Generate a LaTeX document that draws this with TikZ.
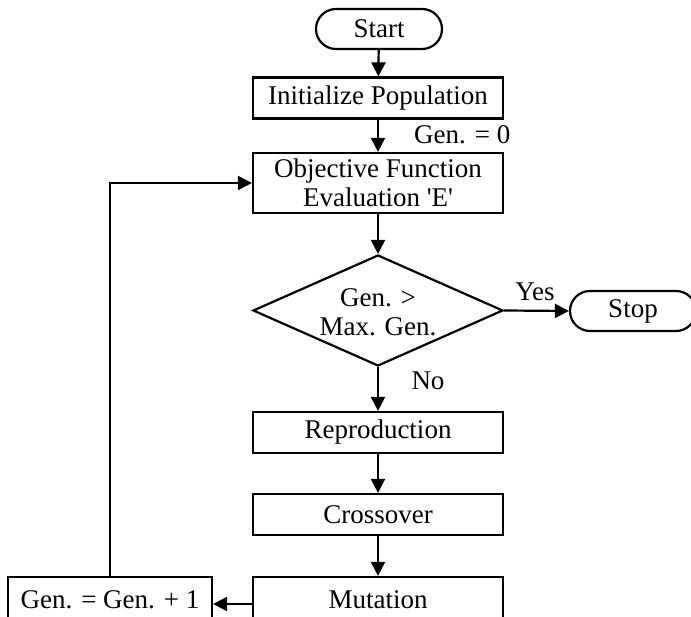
\documentclass[tikz,border=0pt]{standalone}
\usepackage{fontspec}
\newfontfamily\tnr{Liberation Serif}
\usetikzlibrary{shapes.geometric,shapes.misc,arrows.meta,calc}
\begin{document}
\begin{tikzpicture}[x=1pt,y=-1pt,
  every node/.style={font=\tnr\fontsize{27}{29}\selectfont},
  proc/.style={draw,line width=2.2pt,minimum width=250pt,minimum height=41pt,inner sep=0pt,align=center},
  term/.style={draw,line width=2.2pt,rounded rectangle,minimum width=126pt,minimum height=40pt,inner sep=0pt},
  dec/.style={draw,line width=2.2pt,diamond,minimum width=250pt,minimum height=111pt,inner sep=0pt},
  lbl/.style={inner sep=0pt,align=center},
  conn/.style={line width=2.2pt,-{Triangle[length=14pt,width=14pt]}}]
\useasboundingbox (0,0) rectangle (691,617);
\clip (0,0) rectangle (691,617);
\node[term] (start) at (379,29) {Start};
\node[proc] (init) at (378,98) {Initialize Population};
\node[proc,minimum height=60pt] (obj) at (378,183) {Objective Function\\Evaluation 'E'};
\node[dec] (dec) at (378,310.5) {};
\node[lbl] (dectext) at (378,312) {Gen. >\\Max. Gen.};
\node[term] (stop) at (633,311) {Stop};
\node[proc] (repro) at (378,432.5) {Reproduction};
\node[proc] (cross) at (378,514.5) {Crossover};
\node[proc,minimum height=46pt] (mut) at (378,600) {Mutation};
\node[proc,minimum width=204pt,minimum height=46pt] (gen) at (110,600) {Gen. = Gen. + 1};
\node[lbl,anchor=west] (g0) at (414,135) {Gen. = 0};
\node[lbl] (yes) at (535,292) {Yes};
\node[lbl] (no) at (428,381) {No};
\draw[conn] (start) -- (init);
\draw[conn] (init) -- (obj);
\draw[conn] (obj) -- (dec);
\draw[conn] (dec.east) -- (stop.west);
\draw[conn] (dec.south) -- (repro);
\draw[conn] (repro) -- (cross);
\draw[conn] (cross) -- (mut);
\draw[conn] ($(mut.west)+(0,4)$) -- ($(gen.east)+(0,4)$);
\draw[conn] (gen.north) |- (obj.west);
\end{tikzpicture}
\end{document}
